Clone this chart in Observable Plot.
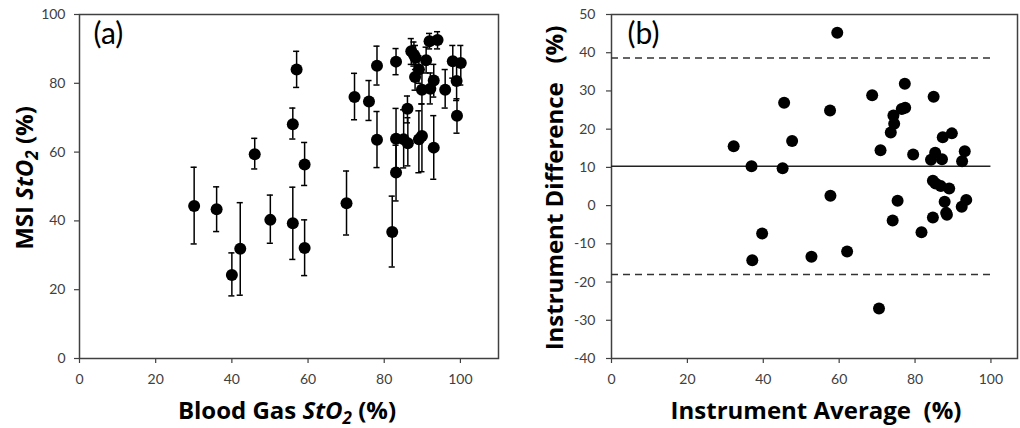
<!DOCTYPE html>
<html><head><meta charset="utf-8">
<script src="https://cdn.jsdelivr.net/npm/d3@7"></script>
<script src="https://cdn.jsdelivr.net/npm/@observablehq/plot@0.6"></script>
<style>
body{margin:0;background:#fff;}
#wrap{display:flex;width:1020px;height:428px;overflow:hidden;}
svg{font-family:Lato,"Open Sans",sans-serif;}
</style></head><body><div id="wrap"></div>
<script>
// Panel (a): MSI StO2 vs Blood Gas StO2 with error bars
const aX  = [30.1,36.0,40.0,42.2,46.0,50.1,56.0,56.0,57.0,59.1,59.1,70.1,72.2,76.0,78.1,78.1,82.1,83.1,83.1,83.1,85.1,86.1,86.2,87.1,87.8,88.2,88.1,89.1,89.9,91.0,91.9,94.0,93.0,92.1,89.1,89.9,93.0,96.0,98.0,99.0,100.1,99.1];
const aY  = [44.3,43.4,24.3,31.9,59.4,40.3,39.3,68.1,84.0,56.4,32.1,45.1,76.0,74.7,85.1,63.6,36.8,86.3,63.9,54.1,63.7,72.6,62.6,89.3,88.3,87.4,81.8,84.0,78.1,86.7,92.2,92.6,80.8,78.4,63.7,64.7,61.3,78.1,86.4,80.7,85.9,70.6];
const aLo = [33.3,36.9,18.2,18.4,55.1,33.5,28.8,63.8,78.8,50.3,24.1,35.9,69.4,69.2,79.5,55.5,26.6,82.5,55.2,45.8,55.4,68.5,56.0,85.5,85.0,84.0,78.0,80.0,74.0,83.0,90.0,90.0,76.0,74.0,54.0,54.3,52.1,72.8,81.5,75.0,79.5,65.5];
const aHi = [55.6,49.9,30.7,45.3,64.0,47.5,49.8,72.8,89.3,62.8,40.3,54.5,82.9,80.8,90.8,71.8,47.2,90.1,72.7,62.0,72.3,76.3,70.0,93.0,92.0,91.0,85.5,88.0,84.0,90.5,94.5,95.0,85.5,83.0,72.0,74.0,70.6,84.0,91.0,86.0,91.0,75.5];
const aXTicks = [0,20,40,60,80,100];
const aYTicks = [0,20,40,60,80,100];

// Panel (b): Bland-Altman
const bAvg  = [32.2,36.9,37.1,39.7,45.1,45.5,47.6,52.7,57.6,57.7,59.5,62.1,68.7,70.5,70.9,73.6,74.1,74.3,74.5,75.4,76.5,77.4,77.3,79.5,81.7,84.2,84.7,84.7,84.9,85.3,85.4,86.8,87.1,87.3,87.8,88.2,88.4,89.0,89.7,92.3,92.4,93.1,93.5];
const bDiff = [15.5,10.3,-14.3,-7.3,9.8,26.9,16.9,-13.4,24.9,2.6,45.2,-12.0,28.9,-26.9,14.5,19.1,-3.9,23.6,21.4,1.3,25.3,25.6,31.9,13.4,-7.0,12.0,-3.1,6.5,28.5,13.8,5.8,5.1,12.1,17.9,1.0,-1.9,-2.4,4.5,18.9,-0.3,11.6,14.2,1.5];
const bMean = 10.3, bUpper = 38.6, bLower = -18.0;
const bLineSpan = [0, 100];
const bXTicks = [0,20,40,60,80,100];
const bYTicks = [-40,-30,-20,-10,0,10,20,30,40,50];

const capHalf = 0.8;
const aData = aX.map((x,i)=>({x, y:aY[i], lo:aLo[i], hi:aHi[i]}));
const bData = bAvg.map((x,i)=>({x, y:bDiff[i]}));
const tickColor = "#404040";

const axisOpts = {tickSize:5, fontSize:14, color:tickColor, label:null, strokeWidth:1.2};

const plotA = Plot.plot({
  width:510, height:428,
  marginLeft:79, marginRight:12, marginTop:14, marginBottom:70,
  x:{domain:[0,110]}, y:{domain:[0,100]},
  marks:[
    Plot.frame({stroke:"#404040", strokeWidth:1.5}),
    Plot.axisX({...axisOpts, ticks:aXTicks, tickPadding:11, tickFormat:d=>String(d)}),
    Plot.axisY({...axisOpts, ticks:aYTicks, tickPadding:9, tickFormat:d=>String(d)}),
    Plot.ruleX(aData, {x:"x", y1:"lo", y2:"hi", stroke:"#000", strokeWidth:1.5}),
    Plot.ruleY(aData, {y:"lo", x1:d=>d.x-capHalf, x2:d=>d.x+capHalf, stroke:"#000", strokeWidth:1.5}),
    Plot.ruleY(aData, {y:"hi", x1:d=>d.x-capHalf, x2:d=>d.x+capHalf, stroke:"#000", strokeWidth:1.5}),
    Plot.dot(aData, {x:"x", y:"y", r:6, fill:"#000", stroke:null}),
    Plot.text(["(a)"], {frameAnchor:"top-left", dx:14, dy:8, fontSize:30, textAnchor:"start", lineAnchor:"top", fill:"#000"})
  ]
});

const plotB = Plot.plot({
  width:510, height:428,
  marginLeft:101, marginRight:3, marginTop:14, marginBottom:70,
  x:{domain:[0,107]}, y:{domain:[-40,50]},
  marks:[
    Plot.frame({stroke:"#404040", strokeWidth:1.5}),
    Plot.axisX({...axisOpts, ticks:bXTicks, tickPadding:11, tickFormat:d=>String(d)}),
    Plot.axisY({...axisOpts, ticks:bYTicks, tickPadding:11, tickFormat:d=>String(d)}),
    Plot.ruleY([bUpper, bLower], {x1:bLineSpan[0], x2:bLineSpan[1], stroke:"#333", strokeWidth:1.5, strokeDasharray:"7,5"}),
    Plot.ruleY([bMean], {x1:bLineSpan[0], x2:bLineSpan[1], stroke:"#222", strokeWidth:1.5}),
    Plot.dot(bData, {x:"x", y:"y", r:6, fill:"#000", stroke:null}),
    Plot.text(["(b)"], {frameAnchor:"top-left", dx:16, dy:8, fontSize:30, textAnchor:"start", lineAnchor:"top", fill:"#000"})
  ]
});

function addTitle(svg, parts, x, y, rotate) {
  const t = d3.select(svg).append("text")
    .attr("transform", `translate(${x},${y})` + (rotate ? " rotate(-90)" : ""))
    .attr("text-anchor","middle")
    .attr("font-family","'Open Sans',Lato,sans-serif")
    .attr("font-size", 24).attr("font-weight","bold").attr("fill","#000");
  parts.forEach(p => {
    const s = t.append("tspan").text(p.t);
    if (p.i) s.attr("font-style","italic");
    if (p.sub) s.attr("font-size", 17).attr("dy", "0.3em");
    if (p.after) s.attr("dy", "-0.21em");
  });
}
addTitle(plotA, [{t:"Blood Gas "},{t:"StO",i:true},{t:"2",i:true,sub:true},{t:" (%)",after:true}], 287, 419, false);
addTitle(plotA, [{t:"MSI "},{t:"StO",i:true},{t:"2",i:true,sub:true},{t:" (%)",after:true}], 33, 178, true);
addTitle(plotB, [{t:"Instrument Average\u00a0\u00a0(%)"}], 306, 419, false);
addTitle(plotB, [{t:"Instrument Difference\u00a0\u00a0\u00a0(%)"}], 53, 188, true);

document.getElementById("wrap").append(plotA, plotB);
</script>
</body></html>
